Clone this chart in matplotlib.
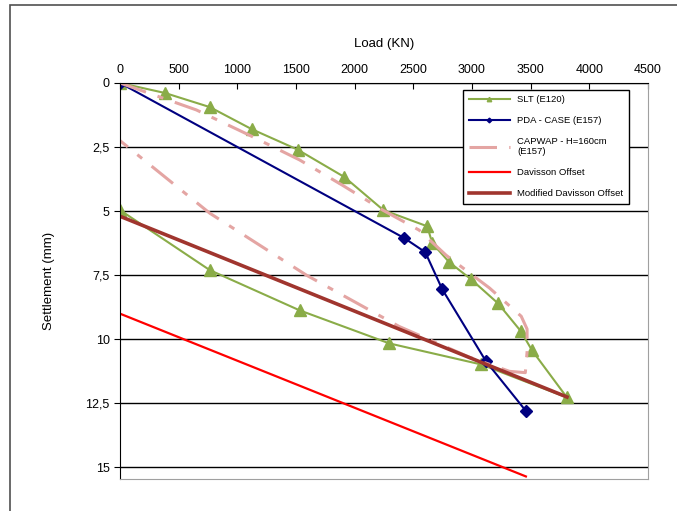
import matplotlib
matplotlib.use("Agg")
import matplotlib.pyplot as plt
from matplotlib.ticker import FuncFormatter
from matplotlib.patches import Rectangle

plt.rcParams['font.family'] = ['Liberation Sans', 'DejaVu Sans']

# static load test, loading then unloading
slt_load = [0, 383, 765, 1122, 1514, 1913, 2245, 2619, 2662, 2806, 2993, 3223, 3418, 3512, 3810,
            3078, 2296, 1531, 765, 0]
slt_settle = [0, 0.39, 0.94, 1.8, 2.6, 3.67, 4.96, 5.59, 6.25, 6.99, 7.66, 8.6, 9.69, 10.43, 12.27,
              10.98, 10.16, 8.87, 7.3, 4.96]

pda_load = [0, 2423, 2602, 2747, 3120, 3461]
pda_settle = [0, 6.05, 6.6, 8.05, 10.86, 12.8]

capwap_load = [0, 650, 1100, 1530, 1900, 2240, 2550, 2780, 3150, 3420, 3470, 3470, 3455,
               3320, 2980, 2380, 1590, 765, 0]
capwap_settle = [0, 1.05, 2.03, 3.0, 4.0, 4.96, 5.74, 6.72, 8.0, 9.1, 9.6, 10.5, 11.3,
                 11.25, 10.7, 9.5, 7.5, 5.08, 2.25]

dav_load = [0, 3460]
dav_settle = [9.0, 15.35]

mod_dav_load = [0, 3810]
mod_dav_settle = [5.2, 12.25]

x_ticks = [0, 500, 1000, 1500, 2000, 2500, 3000, 3500, 4000, 4500]
y_ticks = [0, 2.5, 5, 7.5, 10, 12.5, 15]

fig = plt.figure(figsize=(6.77, 5.11), dpi=100)
ax = fig.add_axes([0.1773, 0.0626, 0.7797, 0.775])

ax.plot(slt_load, slt_settle, color='#8aac48', lw=1.5, marker='^', ms=8,
        label='SLT (E120)')
ax.plot(pda_load, pda_settle, color='#000080', lw=1.5, marker='D', ms=6,
        label='PDA - CASE (E157)')
ax.plot(capwap_load, capwap_settle, color='#e4a5a3', lw=2.2, dashes=(9, 4, 2, 4),
        label='CAPWAP - H=160cm\n(E157)')
ax.plot(dav_load, dav_settle, color='#ff0000', lw=1.6, label='Davisson Offset')
ax.plot(mod_dav_load, mod_dav_settle, color='#a0352e', lw=2.6,
        label='Modified Davisson Offset')

ax.set_xlim(0, 4500)
ax.set_ylim(15.45, 0)
ax.set_xticks(x_ticks)
ax.set_yticks(y_ticks)
ax.yaxis.set_major_formatter(FuncFormatter(lambda v, p: f"{v:g}".replace('.', ',')))
ax.xaxis.tick_top()
ax.xaxis.set_label_position('top')
ax.tick_params(axis='x', direction='in', length=4, labelsize=9, pad=5)
ax.tick_params(axis='y', direction='out', length=4, labelsize=9)
ax.set_xlabel('Load (KN)', fontsize=9.5, labelpad=12)
ax.set_ylabel('Settlement (mm)', fontsize=9.5, labelpad=22)

ax.grid(axis='y', color='black', lw=1.0)
ax.set_axisbelow(True)
ax.spines['top'].set_color('black')
ax.spines['left'].set_color('black')
ax.spines['right'].set_color('#a0a0a0')
ax.spines['bottom'].set_color('#a0a0a0')

leg = ax.legend(loc='upper left', bbox_to_anchor=(0.645, 0.99), fontsize=6.8,
                frameon=True, fancybox=False, edgecolor='black', framealpha=1,
                labelspacing=1.25, handlelength=4.3, borderpad=0.6, markerscale=0.4,
                borderaxespad=0.3)
leg.get_frame().set_linewidth(1.0)

# outer chart frame
fig.patches.append(Rectangle((10 / 677, -0.01), 1.0, 1 - 5 / 511 + 0.01,
                             transform=fig.transFigure, fill=False,
                             edgecolor='#505050', lw=1.2))

fig.savefig('out.png', dpi=100)
